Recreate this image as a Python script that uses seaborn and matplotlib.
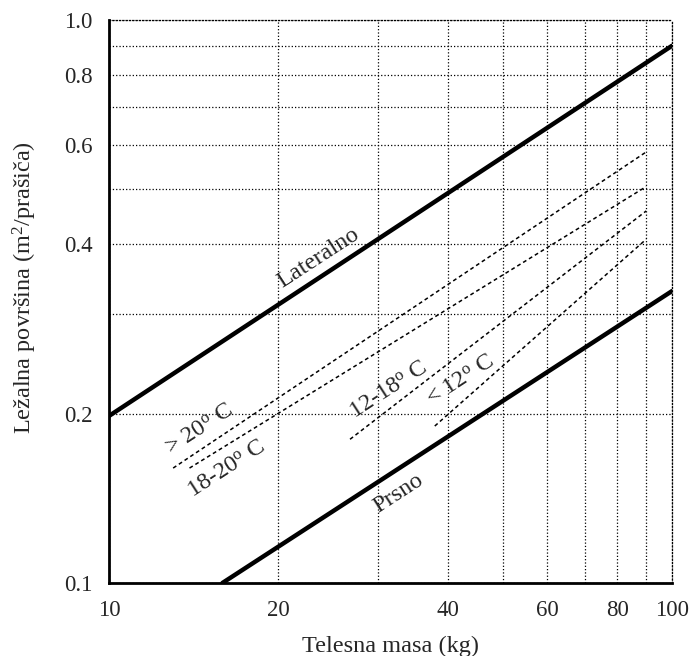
import numpy as np
import seaborn as sns
import matplotlib
matplotlib.use('Agg')
import matplotlib.pyplot as plt
from matplotlib.ticker import FixedLocator, FixedFormatter, NullLocator

# line end points (body mass kg, lying area m2)
lat_x = [10, 100]
lat_y = [0.198, 0.90]
prs_x = [15.9, 100]
prs_y = [0.10, 0.33]
t20_x = [13.0, 90]
t20_y = [0.160, 0.583]
t1820_x = [13.9, 90]
t1820_y = [0.160, 0.506]
t1218_x = [26.8, 90]
t1218_y = [0.180, 0.458]
t12_x = [37.9, 90]
t12_y = [0.190, 0.408]

x_major = [10, 20, 30, 40, 50, 60, 70, 80, 90, 100]
x_labels = ['10', '20', '', '40', '', '60', '', '80', '', '100']
y_major = [0.1, 0.2, 0.3, 0.4, 0.5, 0.6, 0.7, 0.8, 0.9, 1.0]
y_labels = ['0.1', '0.2', '', '0.4', '', '0.6', '', '0.8', '', '1.0']

sns.set_style('white')
plt.rcParams['font.family'] = ['Liberation Serif', 'DejaVu Serif']
plt.rcParams['mathtext.fontset'] = 'custom'
plt.rcParams['mathtext.rm'] = 'Liberation Serif'
plt.rcParams['mathtext.it'] = 'Liberation Serif:italic'

fig = plt.figure(figsize=(6.92, 6.56), dpi=100)
ax = fig.add_axes([0.1575, 0.1113, 0.8136, 0.8582])

for xs, ys in [(lat_x, lat_y), (prs_x, prs_y)]:
    sns.lineplot(x=xs, y=ys, ax=ax, color='black', linewidth=3.2)
for xs, ys in [(t20_x, t20_y), (t1820_x, t1820_y), (t1218_x, t1218_y), (t12_x, t12_y)]:
    sns.lineplot(x=xs, y=ys, ax=ax, color='black', linewidth=1.1, linestyle=(0, (2.5, 2)))

ax.set_xscale('log')
ax.set_yscale('log')
ax.set_xlim(10, 100)
ax.set_ylim(0.1, 1.0)

ax.xaxis.set_major_locator(FixedLocator(x_major))
ax.xaxis.set_major_formatter(FixedFormatter(x_labels))
ax.xaxis.set_minor_locator(NullLocator())
ax.yaxis.set_major_locator(FixedLocator(y_major))
ax.yaxis.set_major_formatter(FixedFormatter(y_labels))
ax.yaxis.set_minor_locator(NullLocator())

ax.tick_params(direction='in', length=7, width=2, labelsize=16.5, pad=12, color='black')
ax.grid(True, which='major', color='black', linestyle=':', linewidth=0.9)
for sp in ax.spines.values():
    sp.set_visible(True)
    sp.set_color('black')
    sp.set_linewidth(0.9)
ax.spines['left'].set_linewidth(2)
ax.spines['bottom'].set_linewidth(2)
ax.spines['top'].set_linestyle(':')
ax.spines['right'].set_linestyle(':')

ax.set_xlabel('Telesna masa (kg)', fontsize=17.5, labelpad=11)
ax.set_ylabel(r'Ležalna površina (m$^2$/prašiča)', fontsize=17.5)
ax.yaxis.set_label_coords(-0.125, 0.525)

txt = dict(fontsize=17.5, rotation=33, rotation_mode='anchor', ha='center', va='center')
ax.text(23.5, 0.378, 'Lateralno', **txt)
ax.text(14.5, 0.187, r'> 20$^{\mathrm{o}}$ C', **txt)
ax.text(16.2, 0.159, r'18-20$^{\mathrm{o}}$ C', **txt)
ax.text(31.4, 0.220, r'12-18$^{\mathrm{o}}$ C', **txt)
ax.text(42.2, 0.229, r'< 12$^{\mathrm{o}}$ C', **txt)
ax.text(32.6, 0.1445, 'Prsno', **txt)

fig.savefig('out.png', dpi=100)
